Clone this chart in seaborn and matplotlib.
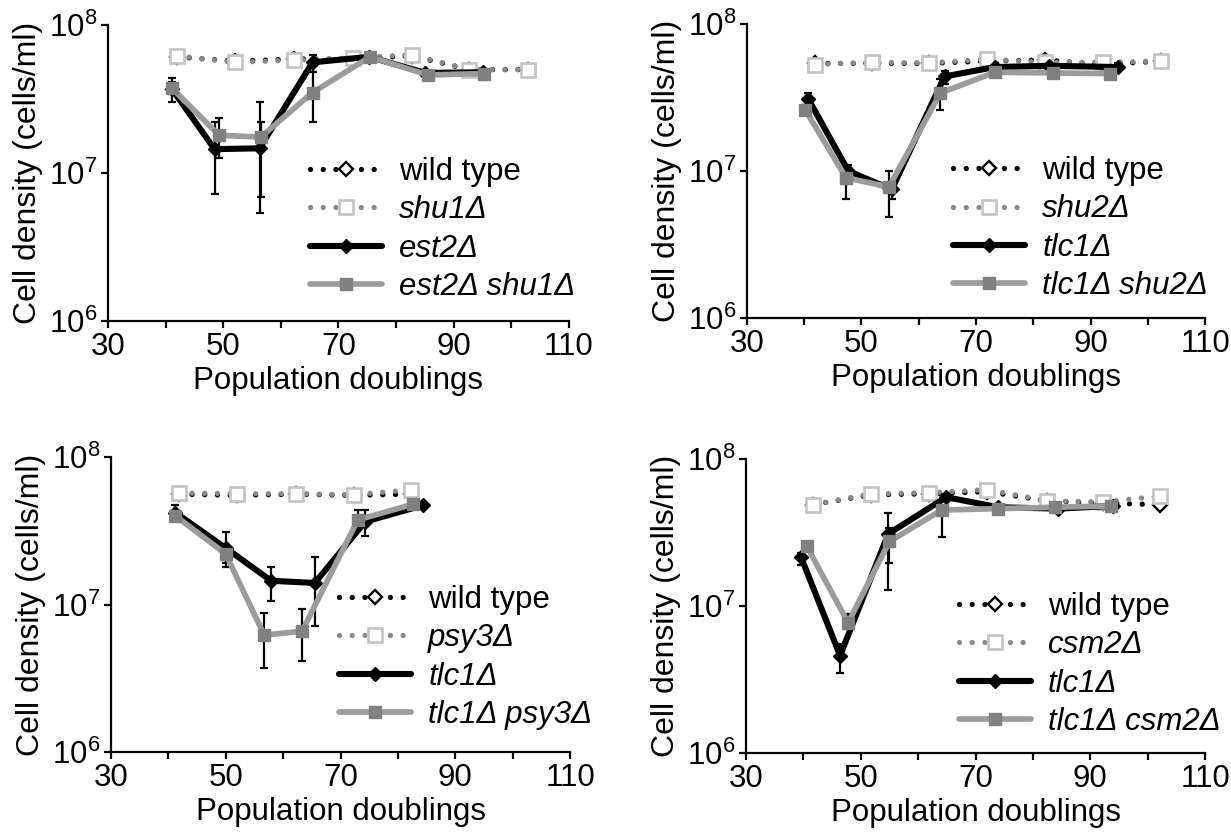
import numpy as np
import matplotlib
matplotlib.use('Agg')
import matplotlib.pyplot as plt
import seaborn as sns

sns.set_theme(style='ticks')
plt.rcParams['font.family'] = ['Liberation Sans', 'DejaVu Sans']
plt.rcParams['mathtext.fontset'] = 'custom'
plt.rcParams['mathtext.rm'] = 'Liberation Sans'
plt.rcParams['text.color'] = 'black'
plt.rcParams['axes.labelcolor'] = 'black'
plt.rcParams['xtick.color'] = 'black'
plt.rcParams['ytick.color'] = 'black'
plt.rcParams['xtick.labelcolor'] = 'black'
plt.rcParams['ytick.labelcolor'] = 'black'

# ---- panel A: est2 / shu1 ----
a_wt_x = [41.9, 52.1, 62.3, 72.5, 82.7, 92.7, 102.9]
a_wt_y = [6.1e7, 5.7e7, 5.9e7, 5.9e7, 6.2e7, 5.0e7, 5.0e7]
a_mut_y = [6.2e7, 5.6e7, 5.8e7, 6.0e7, 6.3e7, 5.0e7, 5.0e7]
a_single_x = [41.1, 48.5, 56.3, 65.5, 75.3, 85.1, 95.1]
a_single_y = [3.7e7, 1.45e7, 1.47e7, 5.6e7, 6.1e7, 4.75e7, 4.8e7]
a_single_lo = [3.0e7, 7.2e6, 5.4e6, 4.8e7, 5.7e7, 4.5e7, 4.6e7]
a_single_hi = [4.4e7, 2.2e7, 3.0e7, 6.3e7, 6.5e7, 5.0e7, 5.0e7]
a_double_x = [41.1, 49.3, 56.5, 65.5, 75.5, 85.5, 95.3]
a_double_y = [3.75e7, 1.8e7, 1.75e7, 3.5e7, 6.1e7, 4.6e7, 4.7e7]
a_double_lo = [3.4e7, 1.26e7, 6.9e6, 2.2e7, 5.8e7, 4.4e7, 4.5e7]
a_double_hi = [4.1e7, 2.37e7, 2.2e7, 5.6e7, 6.4e7, 4.8e7, 4.9e7]

# ---- panel B: tlc1 / shu2 ----
b_wt_x = [41.9, 51.8, 61.8, 71.9, 82.1, 92.1, 102.3]
b_wt_y = [5.4e7, 5.4e7, 5.4e7, 5.6e7, 5.7e7, 5.3e7, 5.6e7]
b_mut_y = [5.3e7, 5.5e7, 5.45e7, 5.75e7, 5.5e7, 5.5e7, 5.6e7]
b_single_x = [40.7, 47.7, 55.3, 64.5, 73.3, 82.7, 94.8]
b_single_y = [3.1e7, 1.0e7, 7.5e6, 4.4e7, 5.1e7, 5.2e7, 5.1e7]
b_single_lo = [2.8e7, 9.0e6, 6.5e6, 3.9e7, 4.9e7, 4.9e7, 4.9e7]
b_single_hi = [3.4e7, 1.1e7, 8.5e6, 4.8e7, 5.4e7, 6.0e7, 5.4e7]
b_double_x = [40.2, 47.3, 54.8, 63.8, 73.3, 83.4, 93.4]
b_double_y = [2.6e7, 9.0e6, 7.8e6, 3.4e7, 4.7e7, 4.65e7, 4.6e7]
b_double_lo = [2.4e7, 6.5e6, 4.9e6, 2.6e7, 4.5e7, 4.4e7, 4.4e7]
b_double_hi = [2.8e7, 1.1e7, 1.0e7, 4.2e7, 4.9e7, 4.9e7, 4.8e7]

# ---- panel C: tlc1 / psy3 ----
c_wt_x = [41.9, 52.0, 62.3, 72.3, 82.3]
c_wt_y = [5.6e7, 5.5e7, 5.6e7, 5.5e7, 5.6e7]
c_mut_y = [5.7e7, 5.65e7, 5.65e7, 5.55e7, 6.0e7]
c_single_x = [41.2, 50.1, 57.9, 65.5, 74.3, 84.3]
c_single_y = [4.2e7, 2.4e7, 1.45e7, 1.4e7, 3.65e7, 4.7e7]
c_single_lo = [3.9e7, 1.8e7, 1.05e7, 7.2e6, 2.9e7, 4.5e7]
c_single_hi = [4.7e7, 3.1e7, 1.8e7, 2.1e7, 4.4e7, 4.9e7]
c_double_x = [41.2, 50.0, 56.7, 63.3, 73.0, 82.7]
c_double_y = [4.0e7, 2.2e7, 6.2e6, 6.6e6, 3.75e7, 4.8e7]
c_double_lo = [3.7e7, 1.9e7, 3.7e6, 4.15e6, 3.4e7, 4.5e7]
c_double_hi = [4.3e7, 2.5e7, 8.8e6, 9.3e6, 4.4e7, 5.1e7]

# ---- panel D: tlc1 / csm2 ----
d_wt_x = [41.7, 51.7, 61.9, 72.0, 82.4, 92.2, 102.2]
d_wt_y = [4.9e7, 5.7e7, 5.8e7, 6.0e7, 5.2e7, 5.0e7, 4.9e7]
d_mut_y = [4.9e7, 5.8e7, 5.9e7, 6.2e7, 5.2e7, 5.1e7, 5.6e7]
d_single_x = [39.6, 46.4, 54.8, 64.9, 74.0, 84.4, 93.9]
d_single_y = [2.15e7, 4.6e6, 3.1e7, 5.5e7, 4.7e7, 4.6e7, 4.8e7]
d_single_lo = [1.9e7, 3.5e6, 1.29e7, 5.2e7, 4.5e7, 4.4e7, 4.6e7]
d_single_hi = [2.3e7, 5.5e6, 4.3e7, 5.8e7, 4.9e7, 4.8e7, 5.0e7]
d_double_x = [40.6, 47.8, 55.0, 64.1, 73.9, 83.9, 93.7]
d_double_y = [2.55e7, 7.7e6, 2.75e7, 4.5e7, 4.6e7, 4.7e7, 4.8e7]
d_double_lo = [2.4e7, 7.0e6, 1.96e7, 2.96e7, 4.4e7, 4.5e7, 4.6e7]
d_double_hi = [2.7e7, 8.8e6, 3.4e7, 4.8e7, 4.8e7, 4.9e7, 5.0e7]

x_ticks = [30, 40, 50, 60, 70, 80, 90, 100, 110]
x_ticklabels = ['30', '', '50', '', '70', '', '90', '', '110']

GRAY_LINE = '#9c9c9c'
GRAY_MARK = '#808080'
GRAY_DOT = '#8a8a8a'
LIGHT_EDGE = '#c4c4c4'
DOTS = (0, (0.01, 2.4))


def errbars(ax, x, y, lo, hi):
    y = np.array(y)
    err = [y - np.array(lo), np.array(hi) - y]
    ax.errorbar(x, y, yerr=err, fmt='none', ecolor='black', elinewidth=1.6,
                capsize=3.2, capthick=1.6, zorder=1.5)


def draw_panel(ax, wt_x, wt_y, mut_y, s_x, s_y, s_lo, s_hi, d_x, d_y, d_lo, d_hi,
               labels, leg_xy):
    wt_y = np.array(wt_y)
    errbars(ax, wt_x, wt_y, wt_y * 0.93, wt_y * 1.07)
    errbars(ax, s_x, s_y, s_lo, s_hi)
    errbars(ax, d_x, d_y, d_lo, d_hi)

    sns.lineplot(x=wt_x, y=wt_y, ax=ax, estimator=None, sort=False,
                 color='black', lw=3.8, linestyle=DOTS, dash_capstyle='round',
                 marker='D', markersize=7, markerfacecolor='white',
                 markeredgecolor='black', markeredgewidth=1.7, label=labels[0], zorder=2)
    sns.lineplot(x=wt_x, y=mut_y, ax=ax, estimator=None, sort=False,
                 color=GRAY_DOT, lw=3.8, linestyle=DOTS, dash_capstyle='round',
                 marker='s', markersize=9.5, markerfacecolor='white',
                 markeredgecolor=LIGHT_EDGE, markeredgewidth=1.9, label=labels[1], zorder=2.1)
    sns.lineplot(x=s_x, y=s_y, ax=ax, estimator=None, sort=False,
                 color='black', lw=4.4, marker='D', markersize=7,
                 markerfacecolor='black', markeredgecolor='black', markeredgewidth=1,
                 label=labels[2], zorder=3)
    sns.lineplot(x=d_x, y=d_y, ax=ax, estimator=None, sort=False,
                 color=GRAY_LINE, lw=4.1, marker='s', markersize=9,
                 markerfacecolor=GRAY_MARK, markeredgecolor=GRAY_MARK, markeredgewidth=1,
                 label=labels[3], zorder=3.1)

    ax.set_yscale('log')
    ax.set_ylim(1e6, 1e8)
    ax.set_yticks([1e6, 1e7, 1e8])
    ax.yaxis.set_minor_locator(matplotlib.ticker.NullLocator())
    ax.set_xlim(30, 110)
    ax.set_xticks(x_ticks)
    ax.set_xticklabels(x_ticklabels)
    ax.tick_params(axis='both', labelsize=22.5, width=1.6, length=5, color='black',
                   labelcolor='black', direction='out', pad=3)
    for side in ['top', 'right']:
        ax.spines[side].set_visible(False)
    for side in ['left', 'bottom']:
        ax.spines[side].set_linewidth(1.6)
        ax.spines[side].set_color('black')
    ax.set_xlabel('Population doublings', fontsize=22.5, labelpad=3, color='black')
    ax.set_ylabel('Cell density (cells/ml)', fontsize=23, labelpad=4, color='black')
    ax.set_facecolor('white')

    handles, labs = ax.get_legend_handles_labels()
    keep = [(h, l) for h, l in zip(handles, labs) if l in labels]
    leg = ax.legend([k[0] for k in keep], [k[1] for k in keep], loc='center left',
                    bbox_to_anchor=leg_xy, frameon=False, fontsize=22.5,
                    handlelength=2.3, handletextpad=0.55, labelspacing=0.27,
                    borderpad=0, borderaxespad=0)
    for t in leg.get_texts():
        t.set_color('black')
    for t in leg.get_texts()[1:]:
        t.set_fontstyle('italic')


fig = plt.figure(figsize=(12.31, 8.33), dpi=100)
fig.patch.set_facecolor('white')

ax_a = fig.add_axes([0.0877, 0.6146, 0.3745, 0.3553])
ax_b = fig.add_axes([0.6068, 0.6182, 0.3721, 0.3529])
ax_c = fig.add_axes([0.0902, 0.0972, 0.3729, 0.3541])
ax_d = fig.add_axes([0.6060, 0.0960, 0.3729, 0.3529])

draw_panel(ax_a, a_wt_x, a_wt_y, a_mut_y, a_single_x, a_single_y, a_single_lo, a_single_hi,
           a_double_x, a_double_y, a_double_lo, a_double_hi,
           ['wild type', 'shu1Δ', 'est2Δ', 'est2Δ shu1Δ'], (0.438, 0.309))
draw_panel(ax_b, b_wt_x, b_wt_y, b_mut_y, b_single_x, b_single_y, b_single_lo, b_single_hi,
           b_double_x, b_double_y, b_double_lo, b_double_hi,
           ['wild type', 'shu2Δ', 'tlc1Δ', 'tlc1Δ shu2Δ'], (0.45, 0.304))
draw_panel(ax_c, c_wt_x, c_wt_y, c_mut_y, c_single_x, c_single_y, c_single_lo, c_single_hi,
           c_double_x, c_double_y, c_double_lo, c_double_hi,
           ['wild type', 'psy3Δ', 'tlc1Δ', 'tlc1Δ psy3Δ'], (0.497, 0.32))
draw_panel(ax_d, d_wt_x, d_wt_y, d_mut_y, d_single_x, d_single_y, d_single_lo, d_single_hi,
           d_double_x, d_double_y, d_double_lo, d_double_hi,
           ['wild type', 'csm2Δ', 'tlc1Δ', 'tlc1Δ csm2Δ'], (0.464, 0.301))

fig.savefig('out.png', dpi=100, facecolor='white')
